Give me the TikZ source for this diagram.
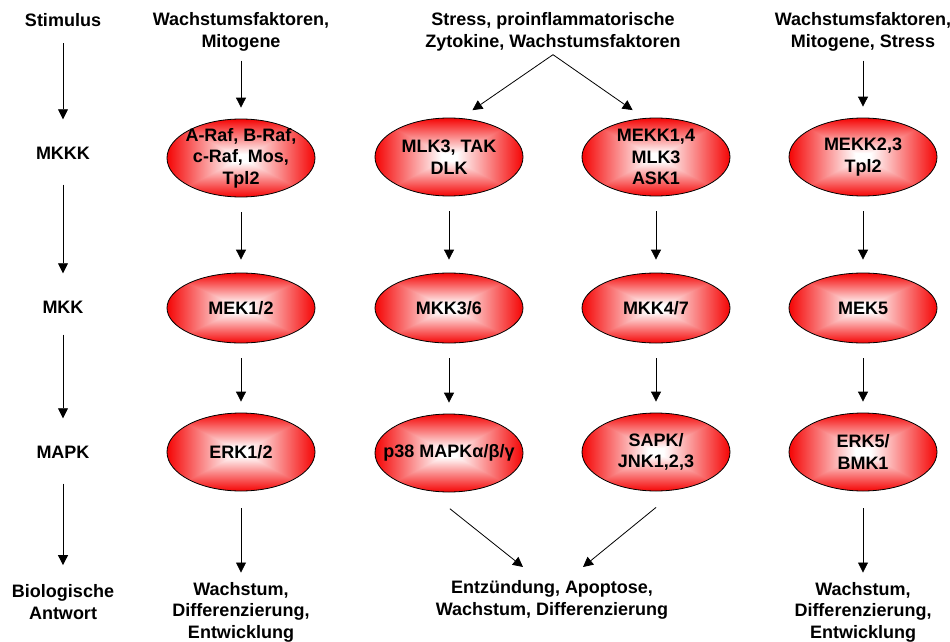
\documentclass[tikz,border=0pt]{standalone}
\usepackage{fontspec}
\setmainfont{Liberation Sans}
\usepackage{tikz}
\usetikzlibrary{shapes.geometric,arrows.meta,calc}
\definecolor{kinred}{RGB}{245, 5, 5}
% rectangular gradient: white centre, red rim
\pgfdeclarefunctionalshading{kinshade}{\pgfpointorigin}{\pgfpoint{100bp}{100bp}}{}{
  50 sub abs exch 50 sub abs
  2 copy lt {exch} if pop
  25 div 0.1 sub 0.9 div
  dup 0 lt {pop 0} if
  dup 1 gt {pop 1} if
  dup 0.98 mul 1 exch sub dup
  3 -1 roll 0.04 mul 1 exch sub
  3 1 roll
}

\begin{document}
\begin{tikzpicture}[x=1pt, y=-1pt,
  every node/.style={font=\bfseries\fontsize{18}{21.5}\selectfont, align=center},
  kinase/.style={ellipse, draw=black, line width=0.8pt, shade, shading=kinshade,
    minimum width=148pt, minimum height=78pt, inner xsep=-45pt, inner ysep=-28pt},
  flow/.style={-{Triangle[length=10pt, width=10pt]}, line width=0.8pt,
    shorten <=15pt, shorten >=13pt},
  side/.style={flow, shorten <=22pt, shorten >=24pt}]
  \useasboundingbox (0,0) rectangle (950,642);

  % Level labels
  \node (stim) at (63,20) {Stimulus};
  \node (lmkkk) at (63,153) {MKKK};
  \node (lmkk) at (63,307) {MKK};
  \node (lmapk) at (63,452) {MAPK};
  \node (lantw) at (63,602) {Biologische\\Antwort};
  \draw[side, shorten <=13pt] (stim) -- (lmkkk);
  \draw[side] (lmkkk) -- (lmkk);
  \draw[side, shorten <=18pt] (lmkk) -- (lmapk);
  \draw[side, shorten >=16pt] (lmapk) -- (lantw);

  % Inputs
  \node (in1) at (241,32) {Wachstumsfaktoren,\\Mitogene};
  \node (in23) at (553,32) {Stress, proinflammatorische\\Zytokine, Wachstumsfaktoren};
  \node (in4) at (863,32) {Wachstumsfaktoren,\\Mitogene, Stress};

  % MKKK
  \node[kinase] (raf) at (241,158) {A-Raf, B-Raf,\\c-Raf, Mos,\\Tpl2};
  \node[kinase] (mlk) at (449,157) {MLK3, TAK\\DLK};
  \node[kinase] (mekk14) at (656,157) {MEKK1,4\\MLK3\\ASK1};
  \node[kinase] (mekk23) at (863,157) {MEKK2,3\\Tpl2};

  % MKK
  \node[kinase, minimum height=70pt] (mek12) at (241,308) {MEK1/2};
  \node[kinase, minimum height=70pt] (mkk36) at (449,308) {MKK3/6};
  \node[kinase, minimum height=70pt] (mkk47) at (656,308) {MKK4/7};
  \node[kinase, minimum height=70pt] (mek5) at (863,308) {MEK5};

  % MAPK
  \node[kinase] (erk12) at (241,452) {ERK1/2};
  \node[kinase] (p38) at (449,453) {p38 MAPKα/β/γ};
  \node[kinase] (sapk) at (656,452) {SAPK/\\JNK1,2,3};
  \node[kinase] (erk5) at (863,452) {ERK5/\\BMK1};

  % Responses
  \node (out1) at (241,612) {Wachstum,\\Differenzierung,\\Entwicklung};
  \node (out23) at (552,600) {Entzündung, Apoptose,\\Wachstum, Differenzierung};
  \node (out4) at (863,612) {Wachstum,\\Differenzierung,\\Entwicklung};
  \coordinate (hitL) at (523,567);
  \coordinate (hitR) at (583,567);

  % Cascades
  \draw[flow, shorten <=6pt, shorten >=11pt] (in1) -- (raf);
  \draw[flow] (raf) -- (mek12);
  \draw[flow, shorten >=11pt] (mek12) -- (erk12);
  \draw[flow, shorten <=17pt, shorten >=6pt] (erk12) -- (out1);

  \draw[flow, shorten <=0pt, shorten >=14pt] (in23.south) -- (mlk.73);
  \draw[flow, shorten <=0pt, shorten >=14pt] (in23.south) -- (mekk14.107);
  \draw[flow] (mlk) -- (mkk36);
  \draw[flow] (mekk14) -- (mkk47);
  \draw[flow, shorten >=11pt] (mkk36) -- (p38);
  \draw[flow, shorten >=11pt] (mkk47) -- (sapk);
  \draw[flow, shorten <=29pt, shorten >=0pt] (p38.-120) -- (hitL);
  \draw[flow, shorten <=28pt, shorten >=0pt] (sapk.-60) -- (hitR);

  \draw[flow, shorten <=6pt, shorten >=11pt] (in4) -- (mekk23);
  \draw[flow] (mekk23) -- (mek5);
  \draw[flow, shorten >=11pt] (mek5) -- (erk5);
  \draw[flow, shorten <=17pt, shorten >=6pt] (erk5) -- (out4);
\end{tikzpicture}
\end{document}
